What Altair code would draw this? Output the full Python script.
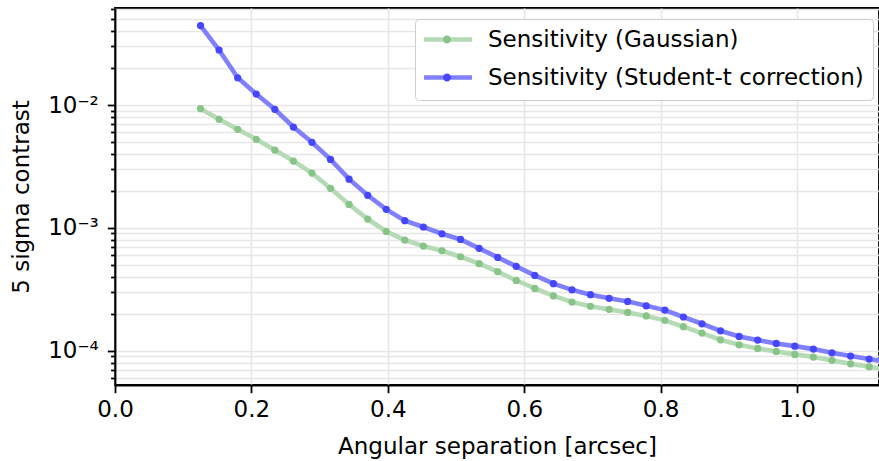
import altair as alt
import pandas as pd

# Angular separation [arcsec]
sep = [0.1254, 0.1526, 0.1799, 0.2071, 0.2343, 0.2616, 0.2888, 0.3160, 0.3432, 0.3705,
       0.3977, 0.4249, 0.4522, 0.4794, 0.5066, 0.5339, 0.5611, 0.5883, 0.6155, 0.6428,
       0.6700, 0.6972, 0.7245, 0.7517, 0.7789, 0.8062, 0.8334, 0.8606, 0.8878, 0.9151,
       0.9423, 0.9695, 0.9968, 1.0240, 1.0512, 1.0785, 1.1057, 1.1329]

gauss = [0.00933, 0.00765, 0.00634, 0.00526, 0.00430, 0.00350, 0.00279, 0.00210, 0.001553, 0.001180,
         0.000936, 0.000796, 0.000711, 0.000651, 0.000582, 0.000511, 0.000440, 0.000373, 0.000321, 0.000279,
         0.000249, 0.000230, 0.000217, 0.000205, 0.000192, 0.0001766, 0.0001567, 0.0001390, 0.0001227, 0.0001117,
         0.0001044, 0.0000986, 0.0000933, 0.0000887, 0.0000834, 0.0000782, 0.0000740, 0.0000702]

student = [0.04436, 0.02806, 0.01667, 0.01229, 0.00923, 0.00662, 0.00497, 0.00361, 0.00249, 0.00184,
           0.001415, 0.001143, 0.001016, 0.000895, 0.000805, 0.000681, 0.000575, 0.000486, 0.000410, 0.000351,
           0.000313, 0.000286, 0.000267, 0.000252, 0.000232, 0.000214, 0.000188, 0.0001656, 0.0001452, 0.0001306,
           0.0001219, 0.0001146, 0.0001089, 0.0001030, 0.0000961, 0.0000904, 0.0000855, 0.0000807]

series_names = ["Sensitivity (Gaussian)", "Sensitivity (Student-t correction)"]
x_ticks = [0.0, 0.2, 0.4, 0.6, 0.8, 1.0]
y_major = [1e-2, 1e-3, 1e-4]
y_minor = [6e-5, 7e-5, 8e-5, 9e-5,
           2e-4, 3e-4, 4e-4, 5e-4, 6e-4, 7e-4, 8e-4, 9e-4,
           2e-3, 3e-3, 4e-3, 5e-3, 6e-3, 7e-3, 8e-3, 9e-3,
           2e-2, 3e-2, 4e-2, 5e-2, 6e-2]

rows = []
for s, vals in zip(series_names, [gauss, student]):
    for xv, yv in zip(sep, vals):
        rows.append({"sep": xv, "val": yv, "series": s, "series_pt": s})
df = pd.DataFrame(rows)

FONT = "DejaVu Sans"
FS = 23

line_colors = ["#b5dab5", "#8080ff"]
dot_colors = ["#88c488", "#4646ff"]

LEG = dict(title=None, orient="none", legendX=300, legendY=11,
           symbolSize=64, symbolStrokeWidth=4.4,
           labelFont=FONT, labelFontSize=FS, labelLimit=0,
           padding=9, rowPadding=11, labelOffset=41)

xenc = alt.X("sep:Q", scale=alt.Scale(domain=[0, 1.1202], nice=False, zero=False),
             axis=alt.Axis(values=x_ticks, format=".1f", title="Angular separation [arcsec]",
                           tickSize=7.7, labelPadding=6, titlePadding=14, labelFlush=False, grid=True))
yenc = alt.Y("val:Q", scale=alt.Scale(type="log", domain=[5.256e-5, 0.06165], nice=False),
             axis=alt.Axis(values=y_major + y_minor, title="5 sigma contrast",
                           labelExpr="datum.value == 0.01 ? '10⁻²' : datum.value == 0.001 ? '10⁻³' : datum.value == 0.0001 ? '10⁻⁴' : ''",
                           tickSize={"condition": {"test": "datum.value == 0.01 || datum.value == 0.001 || datum.value == 0.0001", "value": 7.7}, "value": 4.4},
                           labelOverlap=False, labelBound=False, labelFlush=False, labelPadding=9,
                           titlePadding=14, grid=True))

lines = alt.Chart(df).mark_line(strokeWidth=4.6, clip=True).encode(
    x=xenc, y=yenc,
    color=alt.Color("series:N", scale=alt.Scale(range=line_colors),
                    legend=alt.Legend(symbolType="M -2.875 0 L 9.125 0 M 2.875 -1 M 2.875 1",
                                      labelColor="black",
                                      fillColor="white", strokeColor="#cccccc", cornerRadius=4, **LEG)),
    order="sep:Q",
)

pts = alt.Chart(df).mark_point(filled=True, size=52, opacity=1, clip=True).encode(
    x="sep:Q", y="val:Q",
    fill=alt.Fill("series_pt:N", scale=alt.Scale(range=dot_colors),
                  legend=alt.Legend(symbolType="M -2.875 0 L 9.125 0 M 3.875 0 A 1 1 0 1 1 1.875 0 A 1 1 0 1 1 3.875 0 Z",
                                    symbolStrokeColor="transparent", symbolOpacity=1,
                                    labelColor="transparent", **LEG)),
)

chart = alt.layer(lines, pts).properties(
    width=764, height=377,
    autosize="none",
    padding={"left": 115, "top": 8, "right": 0, "bottom": 76},
).configure_view(
    stroke="black", strokeWidth=1.8
).configure_axis(
    labelFont=FONT, labelFontSize=FS, labelColor="black",
    titleFont=FONT, titleFontSize=FS, titleFontWeight="normal", titleColor="black",
    domainColor="black", domainWidth=1.8, tickColor="black", tickWidth=1.8,
    gridColor="#e6e6e6", gridWidth=1.6,
)

chart.save("out.html", embed_options={"renderer": "svg", "actions": False})
